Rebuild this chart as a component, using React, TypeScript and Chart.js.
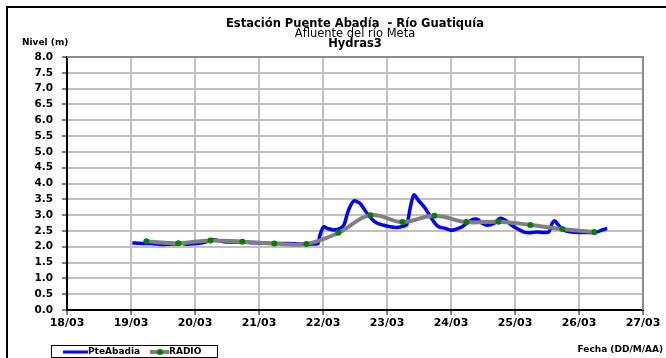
import React, { useEffect, useRef } from "react";
import { Chart, registerables } from "chart.js";

Chart.register(...registerables);

const titleLines = ["Estación Puente Abadía  - Río Guatiquía", "Afluente del río Meta", "Hydras3"];
const yAxisTitle = "Nivel (m)";
const xAxisTitle = "Fecha (DD/M/AA)";
const seriesNames = ["PteAbadia", "RADIO"];
const monthLabel = "03";

// PteAbadia (day of March, level m)
const pteDays = [
  19.02, 19.1, 19.2, 19.3, 19.4, 19.5, 19.6, 19.7, 19.8, 19.9,
  20.0, 20.1, 20.2, 20.27, 20.35, 20.45, 20.6, 20.75, 20.9, 21.0,
  21.15, 21.3, 21.45, 21.6, 21.75, 21.85, 21.92, 21.95, 22.01, 22.07,
  22.17, 22.27, 22.33, 22.38, 22.43, 22.48, 22.53, 22.58, 22.64, 22.69,
  22.77, 22.84, 22.95, 23.05, 23.16, 23.26, 23.31, 23.36, 23.42, 23.49,
  23.6, 23.68, 23.75, 23.81, 23.91, 24.0, 24.07, 24.17, 24.25, 24.33,
  24.41, 24.48, 24.56, 24.67, 24.77, 24.85, 24.95, 25.03, 25.13, 25.23,
  25.34, 25.45, 25.53, 25.58, 25.62, 25.68, 25.76, 25.86, 25.99, 26.13,
  26.26, 26.36, 26.44,
];
const pteLevels = [
  2.12, 2.11, 2.10, 2.10, 2.09, 2.07, 2.08, 2.09, 2.10, 2.08,
  2.10, 2.12, 2.17, 2.23, 2.20, 2.16, 2.15, 2.15, 2.13, 2.12,
  2.11, 2.10, 2.10, 2.09, 2.08, 2.09, 2.10, 2.35, 2.63, 2.58,
  2.53, 2.58, 2.70, 3.05, 3.30, 3.45, 3.43, 3.37, 3.20, 3.05,
  2.86, 2.75, 2.68, 2.63, 2.61, 2.65, 2.70, 3.20, 3.64, 3.47,
  3.21, 2.95, 2.74, 2.63, 2.58, 2.52, 2.55, 2.63, 2.74, 2.86,
  2.87, 2.75, 2.68, 2.74, 2.90, 2.84, 2.68, 2.58, 2.47, 2.44,
  2.47, 2.45, 2.47, 2.74, 2.82, 2.68, 2.53, 2.47, 2.45, 2.45,
  2.45, 2.53, 2.58,
];

// RADIO
const radioDays = [19.24, 19.74, 20.24, 20.74, 21.24, 21.74, 22.24, 22.74, 23.24, 23.74, 24.24, 24.74, 25.24, 25.74, 26.24];
const radioLevels = [2.17, 2.11, 2.2, 2.16, 2.1, 2.09, 2.44, 3.0, 2.78, 2.98, 2.78, 2.79, 2.69, 2.56, 2.47];

const FONT = '"DejaVu Sans", "Liberation Sans", sans-serif';

const overlayPlugin = {
  id: "overlay",
  afterDraw(chart: any) {
    const ctx = chart.ctx;
    const ca = chart.chartArea;
    ctx.save();
    // plot border top/right
    ctx.strokeStyle = "#8c8c8c";
    ctx.lineWidth = 2;
    ctx.beginPath();
    ctx.moveTo(ca.left, ca.top);
    ctx.lineTo(ca.right, ca.top);
    ctx.lineTo(ca.right, ca.bottom);
    ctx.stroke();
    // outer frame
    ctx.fillStyle = "#000";
    ctx.fillRect(6, 6, 660, 2);
    ctx.fillRect(6, 6, 2, 352);
    // titles
    const cx = (ca.left + ca.right) / 2;
    ctx.textAlign = "center";
    ctx.textBaseline = "middle";
    ctx.font = `bold 11.5px ${FONT}`;
    ctx.fillText(titleLines[0], cx, 24);
    ctx.font = `11.5px ${FONT}`;
    ctx.fillText(titleLines[1], cx, 34);
    ctx.font = `bold 11.5px ${FONT}`;
    ctx.fillText(titleLines[2], cx, 44);
    // axis titles
    ctx.font = `bold 9px ${FONT}`;
    ctx.textAlign = "left";
    ctx.fillText(yAxisTitle, 22, 43);
    ctx.textAlign = "right";
    ctx.fillText(xAxisTitle, 663, 350);
    // legend
    ctx.strokeStyle = "#000";
    ctx.lineWidth = 1;
    ctx.strokeRect(51.5, 345.5, 166, 12);
    ctx.strokeStyle = "#0000ff";
    ctx.lineWidth = 3;
    ctx.beginPath();
    ctx.moveTo(63, 352);
    ctx.lineTo(88, 352);
    ctx.stroke();
    ctx.fillStyle = "#000";
    ctx.textAlign = "left";
    ctx.font = `bold 9px ${FONT}`;
    ctx.fillText(seriesNames[0], 88, 352);
    ctx.strokeStyle = "#808080";
    ctx.lineWidth = 4;
    ctx.beginPath();
    ctx.moveTo(150, 352);
    ctx.lineTo(169, 352);
    ctx.stroke();
    ctx.fillStyle = "#008000";
    ctx.beginPath();
    ctx.arc(160, 352, 3, 0, Math.PI * 2);
    ctx.fill();
    ctx.fillStyle = "#000";
    ctx.fillText(seriesNames[1], 169, 352);
    ctx.restore();
  },
};

export default function App() {
  const ref = useRef<HTMLCanvasElement | null>(null);
  useEffect(() => {
    if (!ref.current) return;
    const chart = new Chart(ref.current, {
      type: "line",
      data: {
        datasets: [
          {
            label: seriesNames[1],
            data: radioDays.map((d, i) => ({ x: d, y: radioLevels[i] })),
            borderColor: "#808080",
            borderWidth: 4,
            pointRadius: 3,
            pointBackgroundColor: "#008000",
            pointBorderColor: "#008000",
            pointBorderWidth: 0,
            tension: 0.4,
            order: 0,
          },
          {
            label: seriesNames[0],
            data: pteDays.map((d, i) => ({ x: d, y: pteLevels[i] })),
            borderColor: "#0000ff",
            borderWidth: 3.5,
            pointRadius: 0,
            tension: 0.3,
            order: 1,
          },
        ],
      },
      options: {
        responsive: false,
        animation: false,
        devicePixelRatio: 1,
        layout: { padding: { left: 0, right: 23, top: 57, bottom: 28 } },
        plugins: { legend: { display: false }, tooltip: { enabled: false }, title: { display: false } },
        scales: {
          x: {
            type: "linear",
            min: 18,
            max: 27,
            afterFit: (s: any) => { s.height = 20; },
            ticks: {
              stepSize: 1,
              padding: 2,
              color: "#000",
              font: { family: FONT, size: 11, weight: "bold" },
              callback: (v: any) => `${v}/${monthLabel}`,
              maxRotation: 0,
              autoSkip: false,
            },
            grid: { color: "#c0c0c0", lineWidth: 2, tickColor: "#000", tickLength: 5, tickWidth: 1 },
            border: { color: "#000", width: 2 },
          },
          y: {
            min: 0,
            max: 8,
            afterFit: (s: any) => { s.width = 67; },
            ticks: {
              stepSize: 0.5,
              padding: 9,
              color: "#000",
              font: { family: FONT, size: 10.5, weight: "bold" },
              callback: (v: any) => Number(v).toFixed(1),
              autoSkip: false,
            },
            grid: { color: "#c0c0c0", lineWidth: 2, tickColor: "#000", tickLength: 5, tickWidth: 1 },
            border: { color: "#000", width: 2 },
          },
        },
      },
      plugins: [overlayPlugin],
    } as any);
    return () => chart.destroy();
  }, []);
  return (
    <div style={{ position: "fixed", left: 0, top: 0, width: 666, height: 358, background: "#fff" }}>
      <canvas ref={ref} width={666} height={358} />
    </div>
  );
}
